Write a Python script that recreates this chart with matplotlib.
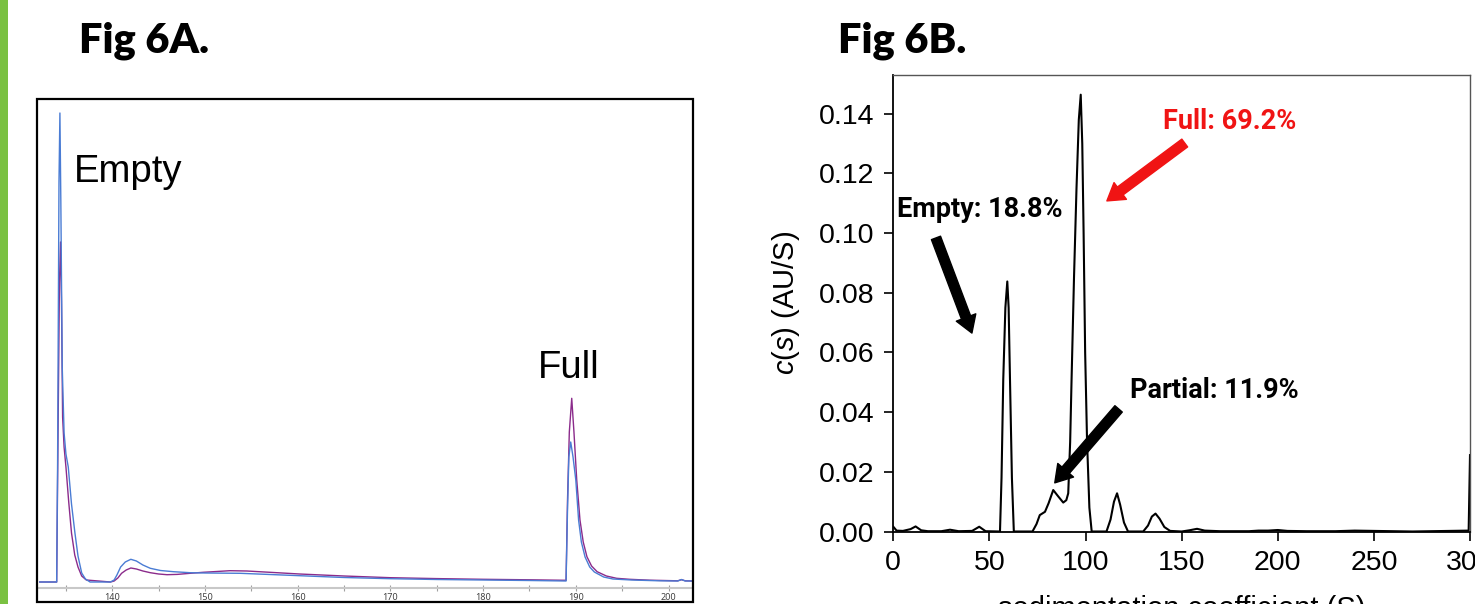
import matplotlib
matplotlib.use("Agg")
import matplotlib.pyplot as plt
from matplotlib.patches import Rectangle, FancyArrowPatch

W, H = 1475, 604

# Fig 6A: two overlaid traces (arbitrary signal units)
a_x_purple = [132.0, 134.0, 134.1, 134.3, 134.42, 134.52, 134.64, 134.8, 135.0, 135.3,
              135.6, 135.95, 136.3, 136.7, 137.2, 139.8, 140.2, 140.6, 141.0, 141.5,
              142.0, 142.6, 143.3, 144.1, 145.0, 145.9, 147.0, 148.4, 149.8, 150.9,
              152.7, 154.5, 157.0, 160.2, 165.0, 170.0, 175.0, 180.0, 185.0, 188.95,
              189.1, 189.3, 189.56, 189.8, 190.1, 190.45, 190.8, 191.2, 191.7, 192.3,
              193.3, 194.4, 195.8, 198.0, 201.0, 201.4, 201.8, 202.5]
a_y_purple = [0, 0, 100, 300, 340, 280, 165, 135, 115, 80,
              49, 27, 15, 6, 2, 0, 1, 4, 8.7, 12,
              14, 13, 11, 9.3, 8, 7.3, 7.6, 8.7, 9.7, 10.3,
              11.3, 11, 9.7, 8, 6, 4.3, 3.4, 2.7, 2.2, 1.7,
              80, 150, 183.7, 150, 102, 62, 40, 25.3, 16, 10.3,
              6, 3.7, 2.7, 1.8, 1.2, 2.3, 1.2, 1.0]
a_x_blue = [132.0, 134.0, 134.1, 134.25, 134.35, 134.45, 134.6, 134.8, 135.0, 135.25,
            135.6, 135.97, 136.3, 136.7, 137.1, 137.6, 139.8, 140.2, 140.5, 140.9,
            141.4, 142.0, 142.6, 143.3, 144.1, 145.2, 146.6, 148.4, 150.0, 153.8,
            157.0, 160.2, 165.0, 170.0, 175.0, 180.0, 185.0, 188.95, 189.1, 189.25,
            189.45, 189.7, 190.0, 190.3, 190.6, 191.0, 191.5, 192.0, 193.0, 194.0,
            196.0, 199.0, 201.0, 201.4, 201.8, 202.5]
a_y_blue = [0, 0, 120, 400, 469, 380, 215, 149, 128, 115,
            78, 49, 26, 9, 3, 0, 0, 2, 7, 15,
            20, 22.7, 21, 17, 13.7, 11.5, 10.3, 9.3, 9.0, 8.7,
            7.5, 6.3, 4.5, 3.3, 2.5, 2.0, 1.5, 1.0, 70, 125,
            140, 125, 102, 62, 40, 25, 15, 10, 5, 3,
            2, 1.2, 1.0, 2.5, 1.0, 1.0]
a_major = [140, 150, 160, 170, 180, 190, 200]
a_minor = [135, 145, 155, 165, 175, 185, 195]

# Fig 6B: c(s) distribution
b_s = [0, 1.7, 5, 9, 11.6, 14.5, 18, 25, 29.5, 34, 41, 44.7, 48,
       55.5, 56.3, 57.2, 58.3, 59.3, 60.0, 60.7, 61.7, 62.7,
       72.4, 74.5, 76.2, 78.9, 80.8, 83.2, 85.5, 88.4, 90.0,
       91.0, 92.0, 92.7, 94.0, 95.3, 96.5, 97.5, 98.3, 99.0, 99.8, 100.8, 102.0, 103.2,
       110.9, 113.0, 114.8, 116.4, 118.0, 120.0, 122.1,
       130.0, 132.5, 134.5, 136.4, 138.5, 141.0, 144.0,
       150, 154, 158, 162, 170, 185, 190, 195, 200, 205, 215, 230, 240, 250, 270, 299.3, 300]
b_c = [0.0016, 0.0003, 0.0002, 0.0008, 0.0017, 0.0004, 0.0001, 0.0001, 0.0006, 0.0001, 0.0002, 0.0016, 0.0001,
       0.0, 0.018, 0.051, 0.075, 0.0838, 0.075, 0.051, 0.018, 0.0,
       0.0, 0.0025, 0.0055, 0.0066, 0.0095, 0.0139, 0.012, 0.0097, 0.0105,
       0.0128, 0.03, 0.05, 0.085, 0.115, 0.138, 0.1464, 0.13, 0.10, 0.06, 0.03, 0.008, 0.0,
       0.0, 0.004, 0.010, 0.0128, 0.009, 0.003, 0.0,
       0.0, 0.002, 0.005, 0.0060, 0.0043, 0.0015, 0.0002,
       0.0, 0.0004, 0.0009, 0.0003, 0.0001, 0.0001, 0.0003, 0.0003, 0.0005, 0.0002, 0.0001,
       0.0001, 0.0003, 0.0002, 0.0, 0.0003, 0.0256]
b_xticks = [0, 50, 100, 150, 200, 250, 300]
b_yticks = [0.00, 0.02, 0.04, 0.06, 0.08, 0.10, 0.12, 0.14]

# annotations: (label, text pos, arrow tail, arrow tip, colour)
b_notes = [
    ("Empty: 18.8%", (1.9, 0.1054), (22.2, 0.0984), (40.9, 0.0665), "black"),
    ("Full: 69.2%", (140.3, 0.1348), (151.6, 0.1302), (111.1, 0.1108), "#f01414"),
    ("Partial: 11.9%", (123.0, 0.0449), (117.2, 0.0411), (84.0, 0.0163), "black"),
]

plt.rcParams["mathtext.fontset"] = "custom"
plt.rcParams["mathtext.it"] = "Liberation Sans:italic"
plt.rcParams["mathtext.rm"] = "Liberation Sans"


def px_rect(l, t, r, b):
    return [l / W, 1 - b / H, (r - l) / W, (b - t) / H]


fig = plt.figure(figsize=(W / 100, H / 100), dpi=100)
fig.patch.set_facecolor("white")

# green bar on the slide edge
fig.patches.append(Rectangle((0, 0), 8 / W, 1, transform=fig.transFigure,
                             facecolor="#7ac142", edgecolor="none"))

title_font = dict(family="Lato", weight="heavy", size=30, color="black")
fig.text(79 / W, 1 - 52 / H, "Fig 6A.", ha="left", va="baseline", **title_font)
fig.text(838 / W, 1 - 52 / H, "Fig 6B.", ha="left", va="baseline", **title_font)

# ---- Fig 6A ----
ax1 = fig.add_axes(px_rect(38.5, 100, 691.5, 588))
ax1.plot(a_x_purple, a_y_purple, color="#8b2b8b", lw=1.0, solid_joinstyle="round")
ax1.plot(a_x_blue, a_y_blue, color="#4a7cd4", lw=1.0, solid_joinstyle="round")
ax1.set_xlim(132.04, 202.48)
ax1.set_ylim(-6, 482)
for side in ["top", "left", "right"]:
    ax1.spines[side].set_visible(False)
ax1.spines["bottom"].set_color("#c8c8c8")
ax1.spines["bottom"].set_linewidth(1.5)
ax1.set_yticks([])
ax1.set_xticks(a_major)
ax1.set_xticks(a_minor, minor=True)
ax1.tick_params(axis="x", which="both", direction="inout", length=4, width=0.8,
                color="#a0a0a0", labelsize=6.5, labelcolor="#404040", pad=1.5)
for lab in ax1.get_xticklabels():
    lab.set_family("Noto Sans")
ax1.text(135.87, 400.3, "Empty", family="Liberation Sans", size=27.5, va="baseline")
ax1.text(185.92, 204, "Full", family="Liberation Sans", size=27.5, va="baseline")

fig.patches.append(Rectangle((37 / W, 1 - 602 / H), 656 / W, 503 / H,
                             transform=fig.transFigure, facecolor="none",
                             edgecolor="black", lw=1.6))

# ---- Fig 6B ----
ax2 = fig.add_axes(px_rect(893.3, 75, 1470, 531.5))
ax2.plot(b_s, b_c, color="black", lw=1.5, solid_joinstyle="round")
ax2.set_xlim(0, 300)
ax2.set_ylim(0, 0.153)
ax2.set_xticks(b_xticks)
ax2.set_yticks(b_yticks)
ax2.set_yticklabels([f"{v:.2f}" for v in b_yticks])
ax2.tick_params(direction="out", length=6.5, width=1.2, labelsize=20.5, pad=7)
for lab in ax2.get_xticklabels() + ax2.get_yticklabels():
    lab.set_family("Liberation Sans")
for side in ["left", "bottom"]:
    ax2.spines[side].set_linewidth(1.3)
for side in ["top", "right"]:
    ax2.spines[side].set_linewidth(1.0)
    ax2.spines[side].set_color("#555555")
ax2.set_ylabel("$c$($s$) (AU/S)", family="Liberation Sans", size=21)
ax2.yaxis.set_label_coords(-0.158, 0.5)
ax2.set_xlabel("sedimentation coefficient (S)", family="Liberation Sans", size=21)
ax2.xaxis.set_label_coords(0.5, -0.139)

for label, tpos, tail, tip, col in b_notes:
    ax2.text(tpos[0], tpos[1], label, color=col, family="Roboto", weight="bold",
             size=19.5, va="baseline", ha="left")
    ax2.add_patch(FancyArrowPatch(tail, tip, color=col, shrinkA=0, shrinkB=0,
                                  arrowstyle="simple,head_length=12,head_width=15,tail_width=7",
                                  mutation_scale=1))

fig.savefig("out.png", dpi=100, facecolor="white")
